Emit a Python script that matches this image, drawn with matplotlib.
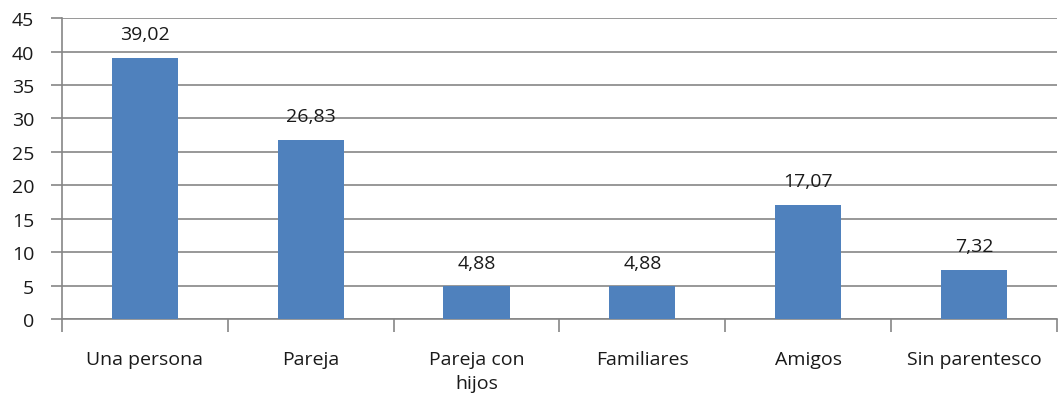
import numpy as np
import matplotlib
matplotlib.use("Agg")
import matplotlib.pyplot as plt

plt.rcParams['font.family'] = ['Open Sans', 'DejaVu Sans']

categorias = ['Una persona', 'Pareja', 'Pareja con\nhijos', 'Familiares', 'Amigos', 'Sin parentesco']
valores = [39.02, 26.83, 4.88, 4.88, 17.07, 7.32]
etiquetas = ['39,02', '26,83', '4,88', '4,88', '17,07', '7,32']

gris = '#868686'
texto = '#1a1a1a'

fig = plt.figure(figsize=(10.6, 4.06), dpi=100)
ax = fig.add_axes([0.0585, 0.2118, 0.9385, 0.7412])

x = np.arange(len(categorias))
ax.bar(x, valores, width=0.4, color='#4F81BD', zorder=3)

for xi, v, t in zip(x, valores, etiquetas):
    ax.text(xi, v + 2.2, t, ha='center', va='bottom', fontsize=14, color=texto)

ax.set_xlim(-0.5, len(categorias) - 0.5)
ax.set_ylim(0, 45)
ax.set_yticks(np.arange(0, 46, 5))
ax.yaxis.grid(True, color=gris, linewidth=1.2, zorder=0)

# ticks del eje x en los limites de las categorias
ax.set_xticks(np.arange(-0.5, len(categorias)), minor=False)
ax.set_xticklabels([])
ax.set_xticks(x, minor=True)
ax.set_xticklabels(categorias, minor=True, fontsize=14, color=texto, linespacing=1.45)
ax.tick_params(axis='x', which='minor', length=0, pad=22)
ax.tick_params(axis='x', which='major', length=9, color=gris, width=1.2)
ax.tick_params(axis='y', length=8, pad=12, color=gris, width=1.2, labelsize=14, labelcolor=texto)

for s in ['top', 'right']:
    ax.spines[s].set_visible(False)
for s in ['left', 'bottom']:
    ax.spines[s].set_color(gris)
    ax.spines[s].set_linewidth(1.2)

fig.savefig('out.png', dpi=100)
